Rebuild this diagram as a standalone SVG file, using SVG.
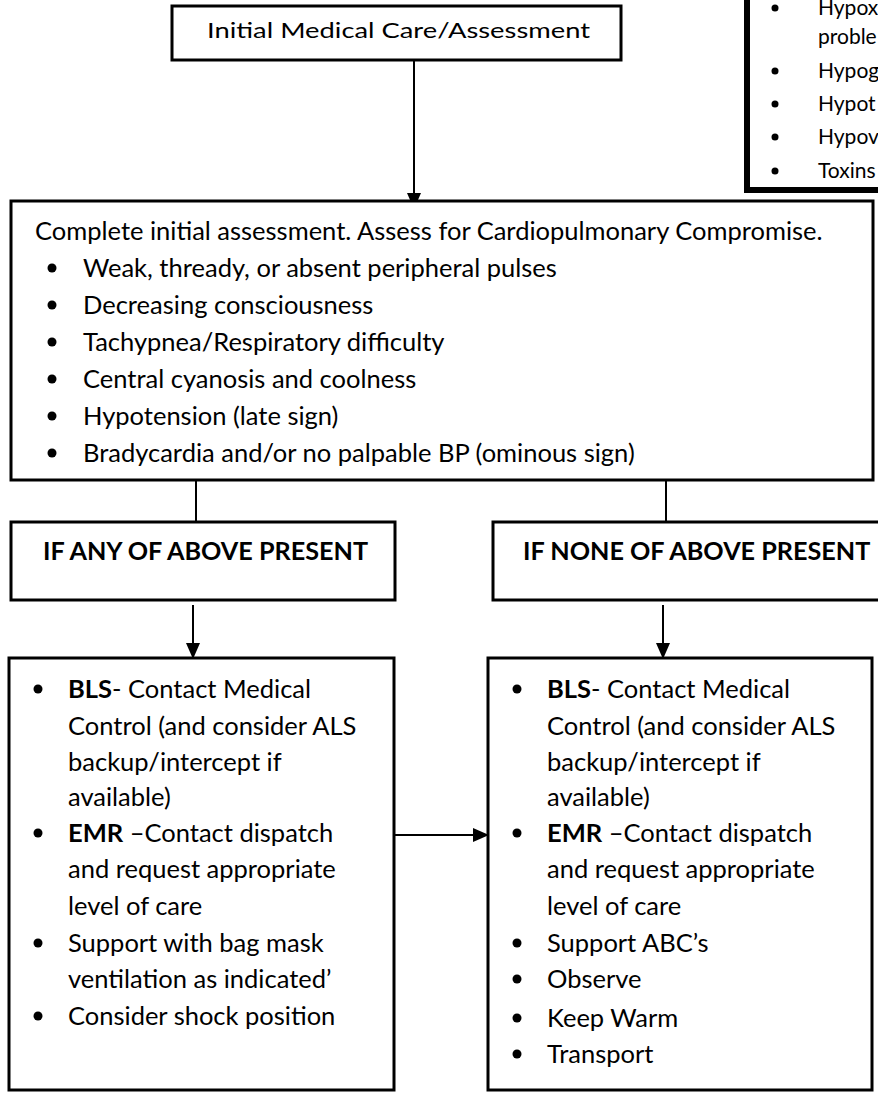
<svg xmlns="http://www.w3.org/2000/svg" width="878" height="1097" viewBox="0 0 878 1097">
<defs>
<style>
.box{fill:#fff;stroke:#000;stroke-width:3}
.thick{fill:#fff;stroke:#000;stroke-width:6}
.t{font-family:Lato,"Liberation Sans",sans-serif;font-size:25.5px;fill:#000}
.s{font-family:Lato,"Liberation Sans",sans-serif;font-size:21px;fill:#000}
.h{font-family:Lato,"Liberation Sans",sans-serif;font-size:25.2px;font-weight:bold;fill:#000}
.b{font-weight:bold}
.ln{stroke:#000;stroke-width:2;fill:none}
</style>
<marker id="ah2" viewBox="0 0 16 14" refX="16" refY="7" markerWidth="16" markerHeight="14" markerUnits="userSpaceOnUse" orient="auto">
<path d="M0,0 L16,7 L0,14 z" fill="#000"/>
</marker>
</defs>
<rect width="878" height="1097" fill="#fff"/>

<g id="causes">
<rect class="thick" x="747" y="-60" width="200" height="250"/>
<g class="s">
<circle cx="775" cy="8" r="3.5"/>
<text x="818" y="15">Hypox</text>
<text x="818" y="44">proble</text>
<circle cx="775" cy="71" r="3.5"/>
<text x="818" y="78">Hypog</text>
<circle cx="775" cy="104" r="3.5"/>
<text x="818" y="111">Hypot</text>
<circle cx="775" cy="137" r="3.5"/>
<text x="818" y="144">Hypov</text>
<circle cx="775" cy="171" r="3.5"/>
<text x="818" y="178">Toxins</text>
</g>
</g>

<g id="connectors">
<line class="ln" x1="414" y1="60" x2="414" y2="209" marker-end="url(#ah2)"/>
<line class="ln" x1="196" y1="480" x2="196" y2="522"/>
<line class="ln" x1="666" y1="480" x2="666" y2="522"/>
<line class="ln" x1="193" y1="605" x2="193" y2="659" marker-end="url(#ah2)"/>
<line class="ln" x1="663" y1="605" x2="663" y2="659" marker-end="url(#ah2)"/>
<line class="ln" x1="394" y1="835" x2="489" y2="835" marker-end="url(#ah2)"/>
</g>

<g id="initial">
<rect class="box" x="172" y="6" width="449" height="54"/>
<text class="t" x="207" y="38" style="font-size:22px" textLength="383" lengthAdjust="spacingAndGlyphs">Initial Medical Care/Assessment</text>
</g>

<g id="assess">
<rect class="box" x="11" y="201" width="862" height="279"/>
<text class="t" x="35" y="240">Complete initial assessment. Assess for Cardiopulmonary Compromise.</text>
<g class="t">
<circle cx="52" cy="268" r="4.5"/><text x="83" y="277">Weak, thready, or absent peripheral pulses</text>
<circle cx="52" cy="305" r="4.5"/><text x="83" y="314">Decreasing consciousness</text>
<circle cx="52" cy="342" r="4.5"/><text x="83" y="351">Tachypnea/Respiratory difficulty</text>
<circle cx="52" cy="379" r="4.5"/><text x="83" y="388">Central cyanosis and coolness</text>
<circle cx="52" cy="416" r="4.5"/><text x="83" y="425">Hypotension (late sign)</text>
<circle cx="52" cy="453" r="4.5"/><text x="83" y="462">Bradycardia and/or no palpable BP (ominous sign)</text>
</g>
</g>

<g id="any">
<rect class="box" x="11" y="522" width="384" height="78"/>
<text class="h" x="43" y="560">IF ANY OF ABOVE PRESENT</text>
</g>

<g id="none">
<rect class="box" x="493" y="522" width="420" height="78"/>
<text class="h" x="523" y="560">IF NONE OF ABOVE PRESENT</text>
</g>

<g id="any-actions">
<rect class="box" x="9" y="658" width="385" height="432"/>
<g class="t">
<circle cx="38" cy="689" r="4.5"/><text x="68" y="698"><tspan class="b">BLS</tspan>- Contact Medical</text>
<text x="68" y="735">Control (and consider ALS</text>
<text x="68" y="771">backup/intercept if</text>
<text x="68" y="806">available)</text>
<circle cx="38" cy="833" r="4.5"/><text x="68" y="842"><tspan class="b">EMR</tspan> –Contact dispatch</text>
<text x="68" y="878">and request appropriate</text>
<text x="68" y="915">level of care</text>
<circle cx="38" cy="943" r="4.5"/><text x="68" y="952">Support with bag mask</text>
<text x="68" y="988">ventilation as indicated’</text>
<circle cx="38" cy="1016" r="4.5"/><text x="68" y="1025">Consider shock position</text>
</g>
</g>

<g id="none-actions">
<rect class="box" x="488" y="658" width="384" height="432"/>
<g class="t">
<circle cx="517" cy="689" r="4.5"/><text x="547" y="698"><tspan class="b">BLS</tspan>- Contact Medical</text>
<text x="547" y="735">Control (and consider ALS</text>
<text x="547" y="771">backup/intercept if</text>
<text x="547" y="806">available)</text>
<circle cx="517" cy="833" r="4.5"/><text x="547" y="842"><tspan class="b">EMR</tspan> –Contact dispatch</text>
<text x="547" y="878">and request appropriate</text>
<text x="547" y="915">level of care</text>
<circle cx="517" cy="943" r="4.5"/><text x="547" y="952">Support ABC’s</text>
<circle cx="517" cy="979" r="4.5"/><text x="547" y="988">Observe</text>
<circle cx="517" cy="1018" r="4.5"/><text x="547" y="1027">Keep Warm</text>
<circle cx="517" cy="1054" r="4.5"/><text x="547" y="1063">Transport</text>
</g>
</g>
</svg>
